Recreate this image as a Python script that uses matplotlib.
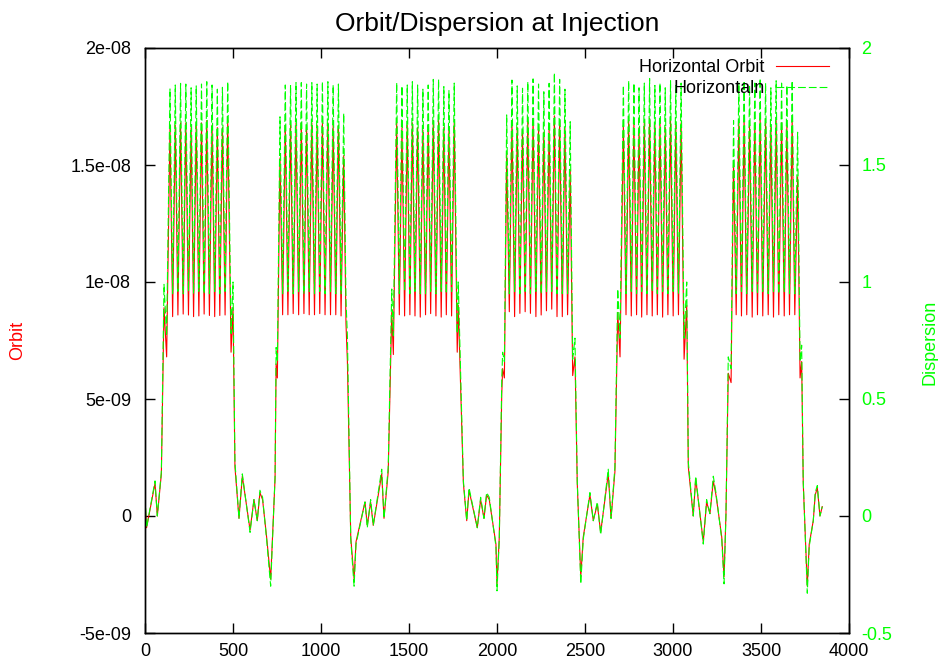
#!/usr/bin/env python3
# plot.py : orbite / dispersion horizontale a l'injection (style gnuplot)
import numpy as np
import matplotlib
matplotlib.use('Agg')
import matplotlib.pyplot as plt
from matplotlib.ticker import FixedLocator, FuncFormatter

plt.rcParams['font.family'] = ['Liberation Sans', 'DejaVu Sans']

# s [m], dispersion D [m], orbite X [1e-8 m], section par section
S_START = [0, 9, 57, 70, 93, 108, 123]
D_START = [0.08, -0.05, 0.15, 0.0, 0.19, 0.99, 0.77]
X_START = [0.07, -0.05, 0.14, 0.0, 0.18, 0.89, 0.68]

S_ARC1 = [142, 157, 172, 187, 202, 217, 232, 247, 262, 276, 291, 306, 321, 336, 351, 366,
          381, 396, 411, 425, 440, 455, 470]
D_ARC1 = [1.825, 0.95, 1.842, 0.96, 1.849, 0.95, 1.846, 0.96, 1.830, 0.95, 1.838, 0.96,
          1.846, 0.95, 1.856, 0.95, 1.842, 0.96, 1.824, 0.95, 1.832, 0.96, 1.856]
X_ARC1 = [1.66, 0.852, 1.67, 0.859, 1.68, 0.863, 1.68, 0.859, 1.66, 0.852, 1.67, 0.855,
          1.68, 0.863, 1.69, 0.857, 1.67, 0.852, 1.66, 0.857, 1.66, 0.859, 1.69]

S_SS1 = [489, 500, 511, 534, 553, 597, 619, 638, 653, 668, 691, 714, 739, 745, 752]
D_SS1 = [0.78, 1.0, 0.23, -0.01, 0.18, -0.07, 0.07, -0.02, 0.11, 0.08, -0.10, -0.30, 0.17, 0.72, 0.66]
X_SS1 = [0.70, 0.89, 0.21, -0.01, 0.17, -0.06, 0.07, -0.02, 0.10, 0.07, -0.09, -0.27, 0.16, 0.65, 0.59]

S_ARC2 = [767, 782, 797, 812, 827, 842, 858, 873, 888, 903, 918, 933, 948, 963, 978, 993,
          1008, 1023, 1039, 1054, 1069, 1084, 1099, 1114, 1129]
D_ARC2 = [1.706, 0.95, 1.842, 0.96, 1.842, 0.95, 1.852, 0.96, 1.852, 0.95, 1.846, 0.96, 1.852,
          0.95, 1.846, 0.96, 1.856, 0.95, 1.856, 0.96, 1.842, 0.95, 1.846, 0.95, 1.721]
X_ARC2 = [1.53, 0.86, 1.67, 0.86, 1.67, 0.865, 1.68, 0.86, 1.68, 0.865, 1.67, 0.86, 1.68,
          0.86, 1.67, 0.865, 1.68, 0.86, 1.68, 0.86, 1.67, 0.86, 1.67, 0.855, 1.54]

S_SS2 = [1142, 1150, 1169, 1188, 1199, 1250, 1263, 1282, 1297, 1345, 1358, 1382, 1402, 1411]
D_SS2 = [0.92, 0.77, -0.10, -0.30, -0.12, 0.06, -0.05, 0.07, -0.04, 0.20, -0.01, 0.21, 0.97, 0.77]
X_SS2 = [0.82, 0.66, -0.09, -0.27, -0.11, 0.06, -0.04, 0.06, -0.04, 0.18, -0.01, 0.19, 0.87, 0.69]

S_ARC3 = [1430, 1445, 1460, 1475, 1490, 1505, 1519, 1534, 1549, 1564, 1579, 1594, 1609, 1623,
          1638, 1653, 1668, 1683, 1698, 1712, 1727, 1742, 1757]
D_ARC3 = [1.852, 0.95, 1.838, 0.96, 1.842, 0.95, 1.856, 0.96, 1.842, 0.95, 1.824, 0.95,
          1.842, 0.96, 1.866, 0.95, 1.866, 0.96, 1.835, 0.95, 1.818, 0.96, 1.850]
X_ARC3 = [1.68, 0.86, 1.66, 0.855, 1.67, 0.86, 1.68, 0.855, 1.66, 0.85, 1.65, 0.86,
          1.67, 0.865, 1.69, 0.855, 1.69, 0.85, 1.66, 0.86, 1.65, 0.855, 1.68]

S_SS3 = [1774, 1780, 1809, 1828, 1841, 1888, 1907, 1926, 1941, 1956, 1994, 2000, 2013, 2027, 2032, 2042]
D_SS3 = [0.78, 1.0, 0.15, -0.02, 0.12, -0.05, 0.08, -0.01, 0.10, 0.08, -0.13, -0.32, -0.10, 0.58, 0.70, 0.66]
X_SS3 = [0.70, 0.90, 0.14, -0.02, 0.11, -0.05, 0.07, -0.01, 0.09, 0.07, -0.12, -0.29, -0.09, 0.52, 0.63, 0.59]

S_ARC4 = [2055, 2070, 2085, 2100, 2115, 2130, 2145, 2160, 2175, 2190, 2205, 2221, 2236, 2251,
          2266, 2281, 2296, 2311, 2326, 2341, 2356, 2371, 2386, 2401, 2416]
D_ARC4 = [1.714, 0.95, 1.863, 0.96, 1.838, 0.95, 1.828, 0.96, 1.856, 0.95, 1.868, 0.96, 1.846,
          0.95, 1.813, 0.96, 1.849, 0.96, 1.894, 0.95, 1.866, 0.95, 1.824, 0.95, 1.685]
X_ARC4 = [1.55, 0.873, 1.685, 0.852, 1.66, 0.866, 1.65, 0.873, 1.685, 0.866, 1.70, 0.852, 1.655,
          0.859, 1.64, 0.877, 1.66, 0.884, 1.71, 0.852, 1.69, 0.852, 1.66, 0.86, 1.48]

S_SS4 = [2430, 2443, 2456, 2476, 2490, 2528, 2547, 2570, 2589, 2632, 2648, 2670, 2686, 2699]
D_SS4 = [0.67, 0.76, 0.15, -0.29, -0.10, 0.10, -0.02, 0.06, -0.08, 0.20, -0.01, 0.21, 0.97, 0.76]
X_SS4 = [0.60, 0.68, 0.14, -0.26, -0.09, 0.09, -0.02, 0.05, -0.07, 0.18, -0.01, 0.19, 0.87, 0.68]

S_ARC5 = [2718, 2733, 2748, 2763, 2778, 2793, 2807, 2822, 2837, 2852, 2867, 2882, 2897, 2911,
          2926, 2941, 2956, 2971, 2986, 3001, 3016, 3031, 3046]
D_ARC5 = [1.84, 0.95, 1.86, 0.96, 1.85, 0.95, 1.83, 0.96, 1.85, 0.95, 1.87, 0.96,
          1.84, 0.95, 1.85, 0.96, 1.83, 0.95, 1.86, 0.96, 1.84, 0.95, 1.85]
X_ARC5 = [1.67, 0.86, 1.69, 0.855, 1.68, 0.86, 1.66, 0.85, 1.68, 0.86, 1.70, 0.855,
          1.67, 0.86, 1.68, 0.85, 1.66, 0.86, 1.69, 0.855, 1.67, 0.86, 1.68]

S_SS5 = [3063, 3078, 3087, 3115, 3129, 3172, 3191, 3210, 3229, 3244, 3277, 3290, 3301, 3314, 3330]
D_SS5 = [0.76, 1.0, 0.23, 0.0, 0.17, -0.12, 0.07, 0.01, 0.17, 0.10, -0.10, -0.29, 0.01, 0.68, 0.63]
X_SS5 = [0.67, 0.90, 0.21, 0.0, 0.16, -0.11, 0.06, 0.01, 0.15, 0.09, -0.09, -0.26, 0.01, 0.61, 0.57]

S_ARC6 = [3344, 3359, 3374, 3389, 3404, 3419, 3435, 3450, 3465, 3480, 3495, 3510, 3526, 3541,
          3556, 3571, 3586, 3601, 3617, 3632, 3647, 3662, 3677, 3692, 3708]
D_ARC6 = [1.69, 0.95, 1.85, 0.96, 1.86, 0.95, 1.84, 0.96, 1.85, 0.95, 1.87, 0.96, 1.85,
          0.95, 1.83, 0.96, 1.86, 0.95, 1.85, 0.96, 1.84, 0.95, 1.86, 0.95, 1.64]
X_ARC6 = [1.52, 0.86, 1.68, 0.855, 1.69, 0.86, 1.67, 0.85, 1.68, 0.86, 1.70, 0.855, 1.68,
          0.86, 1.66, 0.85, 1.69, 0.86, 1.68, 0.855, 1.67, 0.86, 1.69, 0.86, 1.45]

S_END = [3722, 3731, 3740, 3763, 3774, 3797, 3808, 3820, 3835, 3848]
D_END = [0.66, 0.73, 0.15, -0.33, -0.13, -0.02, 0.10, 0.13, 0.0, 0.04]
X_END = [0.59, 0.66, 0.14, -0.30, -0.12, -0.02, 0.09, 0.12, 0.0, 0.04]

X_TICKS = [0, 500, 1000, 1500, 2000, 2500, 3000, 3500, 4000]
Y_TICKS = [-5e-9, 0, 5e-9, 1e-8, 1.5e-8, 2e-8]
Y2_TICKS = [-0.5, 0, 0.5, 1, 1.5, 2]

s = np.concatenate([S_START, S_ARC1, S_SS1, S_ARC2, S_SS2, S_ARC3, S_SS3,
                    S_ARC4, S_SS4, S_ARC5, S_SS5, S_ARC6, S_END])
disp = np.concatenate([D_START, D_ARC1, D_SS1, D_ARC2, D_SS2, D_ARC3, D_SS3,
                       D_ARC4, D_SS4, D_ARC5, D_SS5, D_ARC6, D_END])
orb = np.concatenate([X_START, X_ARC1, X_SS1, X_ARC2, X_SS2, X_ARC3, X_SS3,
                      X_ARC4, X_SS4, X_ARC5, X_SS5, X_ARC6, X_END]) * 1e-8

RED, GREEN = '#ff0000', '#00ff00'
W, H = 938, 664
fig = plt.figure(figsize=(W/100, H/100), dpi=100)
ax = fig.add_axes([145/W, 31/H, 704/W, 585/H])
ax2 = ax.twinx()

l1, = ax.plot(s, orb, color=RED, lw=0.8, label='Horizontal Orbit')
l2, = ax2.plot(s, disp, color=GREEN, lw=0.8, dashes=(7, 2.7), label='Horizontaln')

ax.set_xlim(0, 4000); ax.set_ylim(-5e-9, 2e-8); ax2.set_ylim(-0.5, 2)
ax.xaxis.set_major_locator(FixedLocator(X_TICKS))
ax.yaxis.set_major_locator(FixedLocator(Y_TICKS))
ax.yaxis.set_major_formatter(FuncFormatter(lambda v, p: '%g' % v))
ax2.yaxis.set_major_locator(FixedLocator(Y2_TICKS))
ax2.yaxis.set_major_formatter(FuncFormatter(lambda v, p: '%g' % v))

ax.tick_params(axis='x', direction='in', length=7, width=1, top=True, labelsize=13, pad=7)
ax.tick_params(axis='y', direction='in', length=7, width=1, right=False, labelsize=13, pad=10)
ax2.tick_params(axis='y', direction='in', length=7, width=1, labelsize=13, pad=9, labelcolor=GREEN)
for a in (ax, ax2):
    for sp in a.spines.values():
        sp.set_linewidth(1.0); sp.set_color('black')

ax.set_title('Orbit/Dispersion at Injection', fontsize=19, pad=12)
fig.text(18/W, 1-340/H, 'Orbit', color=RED, fontsize=13, rotation=90, ha='center', va='center')
fig.text(930/W, 1-342/H, 'Dispersion', color=GREEN, fontsize=13, rotation=90, ha='center', va='center')

ax2.legend([l1, l2], ['Horizontal Orbit', 'Horizontaln'], loc='upper right',
           bbox_to_anchor=(0.9716, 0.981), frameon=False, markerfirst=False, fontsize=13,
           handlelength=2.93, handletextpad=0.65, labelspacing=0.22, borderpad=0, borderaxespad=0)

fig.savefig('out.png', dpi=100)
